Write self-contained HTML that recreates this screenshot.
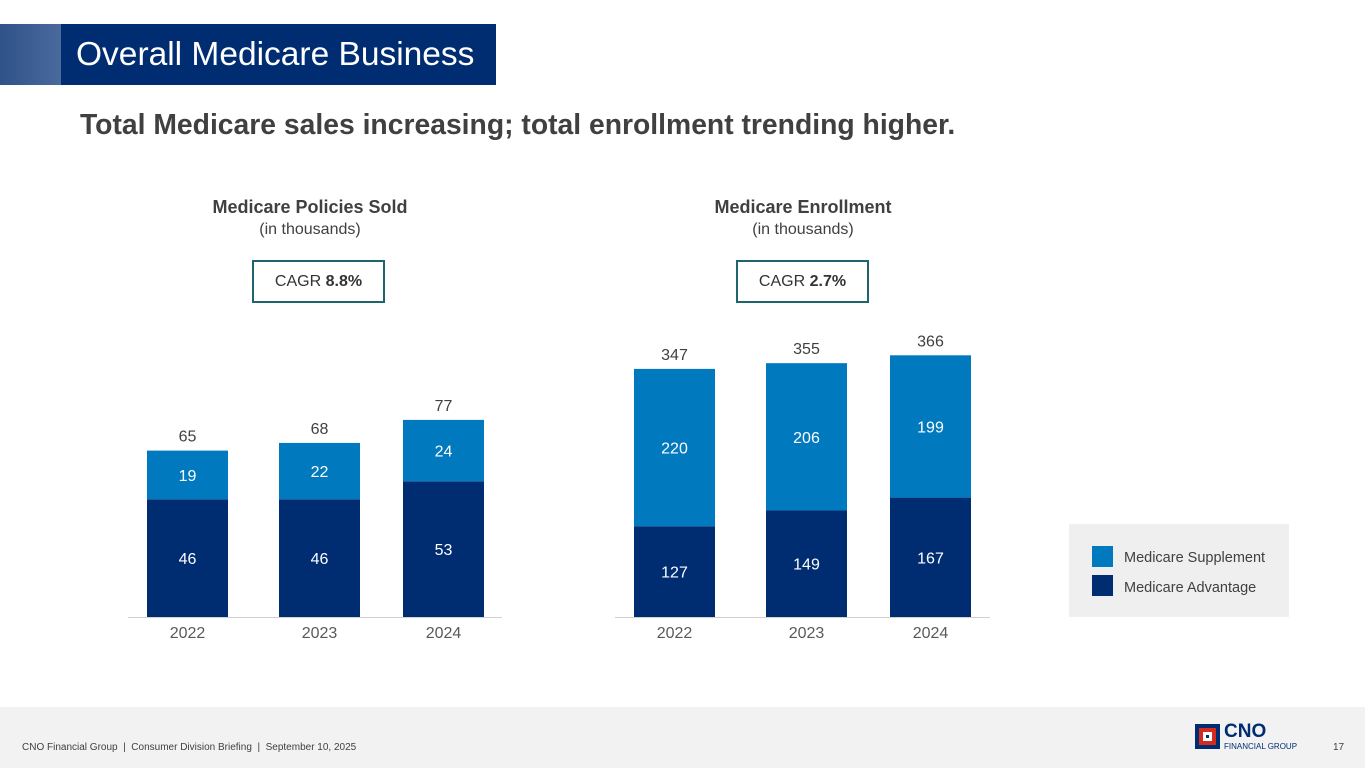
<!DOCTYPE html>
<html><head><meta charset="utf-8"><style>
body{margin:0;width:1365px;height:768px;position:relative;overflow:hidden;background:#fff;font-family:"Liberation Sans",Arial,sans-serif;}
.abs{position:absolute}
</style></head><body>
<div class="abs" style="left:0;top:24px;width:61px;height:61px;background:linear-gradient(90deg,#2f5288,#4a6a9e)"></div>
<div class="abs" style="left:61px;top:24px;width:435px;height:61px;background:#002d72;color:#fff;font-size:33.5px;line-height:61px;padding-left:15px;box-sizing:border-box;white-space:nowrap">Overall Medicare Business</div>
<div class="abs" style="left:80px;top:108px;font-size:28.3px;font-weight:bold;color:#404040;white-space:nowrap">Total Medicare sales increasing; total enrollment trending higher.</div>

<div class="abs" style="left:160px;top:197px;width:300px;text-align:center;color:#404040;font-size:18px"><b>Medicare Policies Sold</b><br><span style="font-size:16px">(in thousands)</span></div>
<div class="abs" style="left:252px;top:260px;width:133px;height:43px;box-sizing:border-box;border:2px solid #1f6570;text-align:center;line-height:39px;font-size:16px;color:#333">CAGR <b>8.8%</b></div>
<div class="abs" style="left:653px;top:197px;width:300px;text-align:center;color:#404040;font-size:18px"><b>Medicare Enrollment</b><br><span style="font-size:16px">(in thousands)</span></div>
<div class="abs" style="left:736px;top:260px;width:133px;height:43px;box-sizing:border-box;border:2px solid #1f6570;text-align:center;line-height:39px;font-size:16px;color:#333">CAGR <b>2.7%</b></div>

<svg class="abs" style="left:0;top:0" width="1365" height="768" id="svg"></svg>

<div class="abs" style="left:1069px;top:524px;width:220px;height:93px;background:#efefef"></div>
<div class="abs" style="left:1092px;top:546px;width:21px;height:21px;background:#0079bf"></div>
<div class="abs" style="left:1124px;top:550px;font-size:14.5px;color:#404040">Medicare Supplement</div>
<div class="abs" style="left:1092px;top:575px;width:21px;height:21px;background:#002d72"></div>
<div class="abs" style="left:1124px;top:580px;font-size:14.5px;color:#404040">Medicare Advantage</div>

<div class="abs" style="left:0;top:707px;width:1365px;height:61px;background:#f2f2f2"></div>
<div class="abs" style="left:22px;top:742px;font-size:10px;color:#404040">CNO Financial Group &nbsp;| &nbsp;Consumer Division Briefing &nbsp;| &nbsp;September 10, 2025</div>
<div class="abs" style="left:1195px;top:724px;width:25px;height:25px;background:#002d72"><div style="position:absolute;left:4px;top:4px;width:17px;height:17px;background:#d52b1e"><div style="position:absolute;left:4px;top:4px;width:9px;height:9px;background:#fff"><div style="position:absolute;left:3px;top:3px;width:3px;height:3px;background:#002d72"></div></div></div></div>
<div class="abs" style="left:1224px;top:722px;color:#002d72;font-weight:bold;font-size:19px;line-height:19px">CNO</div>
<div class="abs" style="left:1224px;top:742px;color:#002d72;font-size:8px">FINANCIAL GROUP</div>
<div class="abs" style="left:1333px;top:742px;font-size:10px;color:#404040">17</div>

<script>
const years = ["2022","2023","2024"];
const soldAdvantage = [46,46,53];
const soldSupplement = [19,22,24];
const soldTotal = [65,68,77];
const enrAdvantage = [127,149,167];
const enrSupplement = [220,206,199];
const enrTotal = [347,355,366];

const svg=document.getElementById('svg');
const NS='http://www.w3.org/2000/svg';
function mk(tag,attrs,txt){const e=document.createElementNS(NS,tag);for(const k in attrs)e.setAttribute(k,attrs[k]);if(txt!==undefined)e.textContent=txt;svg.appendChild(e);return e;}
function chart(prefix,xs,axisL,axisR,scale,adv,sup,tot){
  const base=617,w=81;
  const y=v=>base-v*scale;
  const ax=mk('line',{x1:axisL,x2:axisR,y1:base+0.5,y2:base+0.5,stroke:'#d0d0d0','stroke-width':1});
  
  
  years.forEach((yr,i)=>{
    const x=xs[i];
    const ya=y(adv[i]), ys=y(adv[i]+sup[i]);
    const r1=mk('rect',{x:x,y:ya,width:w,height:base-ya,fill:'#002d72'});
    
    
    const r2=mk('rect',{x:x,y:ys,width:w,height:ya-ys,fill:'#0079bf'});
    
    
    const common={'text-anchor':'middle','font-size':16,'font-family':'Liberation Sans, Arial, sans-serif'};
    const t1=mk('text',Object.assign({x:x+w/2,y:(ya+base)/2+6,fill:'#fff'},common),adv[i]);
    
    
    const t2=mk('text',Object.assign({x:x+w/2,y:(ys+ya)/2+6,fill:'#fff'},common),sup[i]);
    
    
    const t3=mk('text',Object.assign({x:x+w/2,y:y(tot[i])-9,fill:'#404040'},common),tot[i]);
    
    
    const t4=mk('text',Object.assign({x:x+w/2,y:638,fill:'#595959'},common),yr);
    
    
  });
}
chart('policies',[147,279,403],128,502,2.56,soldAdvantage,soldSupplement,soldTotal);
chart('enrollment',[634,766,890],615,990,0.715,enrAdvantage,enrSupplement,enrTotal);
</script>
</body></html>
